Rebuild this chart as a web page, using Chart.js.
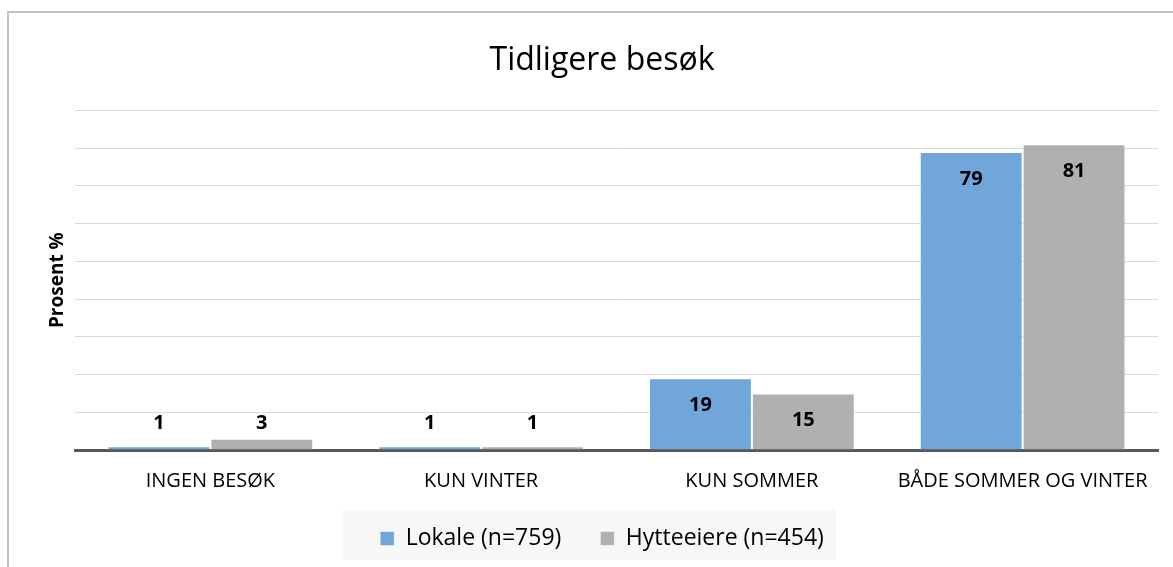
<!DOCTYPE html>
<html lang="no">
<head>
    <meta charset="UTF-8">
    <title>Tidligere besøk</title>
    <script src="https://cdn.jsdelivr.net/npm/chart.js"></script>
    <style>
        html, body { margin: 0; padding: 0; background: white; overflow: hidden; }
        .chart-wrapper { width: 1173px; height: 567px; position: relative; }
    </style>
</head>
<body>
    <div class="chart-wrapper">
        <canvas id="besokChart"></canvas>
    </div>

    <script>
        // Data
        const categories = ['INGEN BESØK', 'KUN VINTER', 'KUN SOMMER', 'BÅDE SOMMER OG VINTER'];
        const lokale = [1, 1, 19, 79];
        const hytteeiere = [3, 1, 15, 81];
        const seriesNames = ['Lokale (n=759)', 'Hytteeiere (n=454)'];

        const FONT = "'Open Sans', sans-serif";

        // Ramme rundt hele figuren + grå bakgrunn bak legenden
        const framePlugin = {
            id: 'frame',
            beforeDraw(chart) {
                const ctx = chart.ctx;
                ctx.save();
                ctx.fillStyle = '#c3c3c3';
                ctx.fillRect(7, 11, chart.width, 2);
                ctx.fillRect(7, 11, 2, chart.height);
                const boxes = chart.legend.legendHitBoxes;
                if (boxes && boxes.length) {
                    const first = boxes[0];
                    const last = boxes[boxes.length - 1];
                    const x0 = first.left - 38;
                    const x1 = last.left + last.width + 12;
                    ctx.fillStyle = '#f7f7f7';
                    ctx.fillRect(x0, 510, x1 - x0, 50);
                }
                ctx.restore();
            }
        };

        // Verdietiketter inne i toppen av søylene
        const labelPlugin = {
            id: 'barLabels',
            afterDatasetsDraw(chart) {
                const ctx = chart.ctx;
                ctx.save();
                ctx.font = "bold 20px " + FONT;
                ctx.fillStyle = '#000';
                ctx.textAlign = 'center';
                ctx.textBaseline = 'middle';
                chart.data.datasets.forEach((ds, i) => {
                    chart.getDatasetMeta(i).data.forEach((bar, j) => {
                        const y = Math.min(bar.y + 27, bar.base - 26);
                        ctx.fillText(ds.data[j], bar.x, y);
                    });
                });
                ctx.restore();
            }
        };

        new Chart(document.getElementById('besokChart'), {
            type: 'bar',
            data: {
                labels: categories,
                datasets: [{
                    label: seriesNames[0],
                    data: lokale,
                    backgroundColor: '#71a6db',
                    borderColor: 'rgba(255,255,255,0.5)',
                    borderWidth: 1,
                    categoryPercentage: 0.76,
                    barPercentage: 1.0
                }, {
                    label: seriesNames[1],
                    data: hytteeiere,
                    backgroundColor: '#b0b0b0',
                    borderColor: 'rgba(255,255,255,0.5)',
                    borderWidth: 1,
                    categoryPercentage: 0.76,
                    barPercentage: 1.0
                }]
            },
            options: {
                responsive: true,
                maintainAspectRatio: false,
                animation: false,
                layout: {
                    padding: { left: 46, right: 15, top: 0, bottom: 7 }
                },
                plugins: {
                    title: {
                        display: true,
                        text: 'Tidligere besøk',
                        color: '#000',
                        font: { family: FONT, size: 32, weight: 'normal' },
                        padding: { top: 42, bottom: 30 }
                    },
                    legend: {
                        position: 'bottom',
                        labels: {
                            color: '#000',
                            font: { family: FONT, size: 23 },
                            boxWidth: 14,
                            boxHeight: 14,
                            padding: 39
                        }
                    },
                    tooltip: { enabled: false }
                },
                scales: {
                    x: {
                        grid: { display: false, drawTicks: false },
                        border: { color: '#595959', width: 3 },
                        ticks: {
                            color: '#000',
                            font: { family: FONT, size: 20 },
                            padding: 19,
                            maxRotation: 0
                        },
                        afterFit(scale) { scale.height = 38; }
                    },
                    y: {
                        min: 0,
                        max: 90,
                        ticks: { display: false, stepSize: 10 },
                        grid: {
                            color: ctx => ctx.tick.value === 0 ? 'rgba(0,0,0,0)' : '#d9d9d9',
                            lineWidth: 1,
                            drawTicks: false
                        },
                        border: { display: false },
                        title: {
                            display: true,
                            text: 'Prosent %',
                            color: '#000',
                            font: { family: FONT, size: 19, weight: 'bold' },
                            padding: { top: 0, bottom: 4 }
                        },
                        afterFit(scale) { scale.width = 29; }
                    }
                }
            },
            plugins: [framePlugin, labelPlugin]
        });
    </script>
</body>
</html>
